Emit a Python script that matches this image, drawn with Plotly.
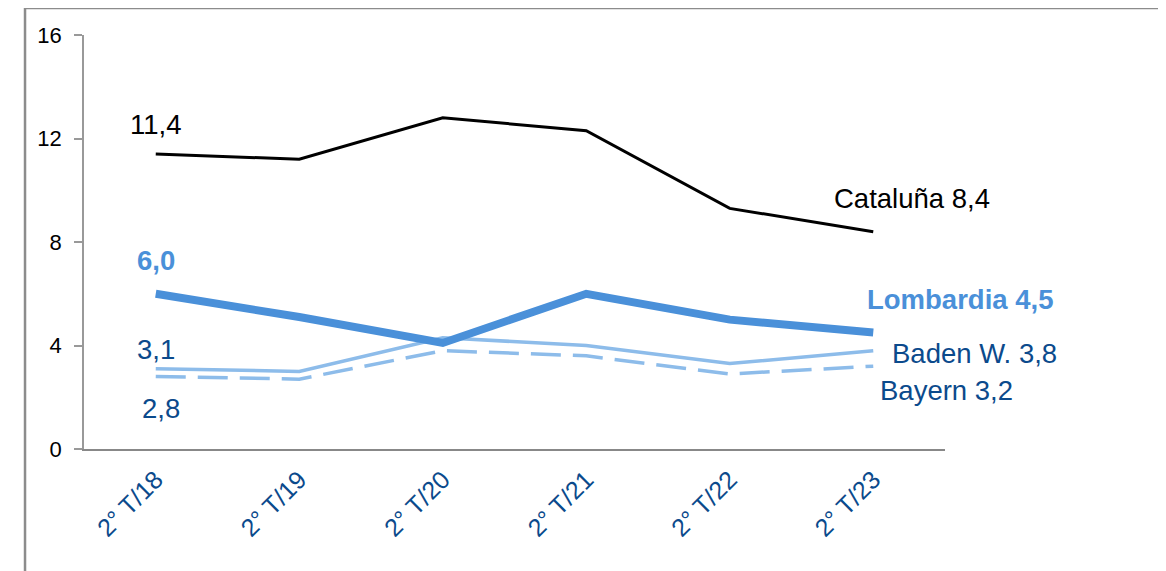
import plotly.graph_objects as go

categories = ["2° T/18", "2° T/19", "2° T/20", "2° T/21", "2° T/22", "2° T/23"]
cataluna = [11.4, 11.2, 12.8, 12.3, 9.3, 8.4]
lombardia = [6.0, 5.1, 4.1, 6.0, 5.0, 4.5]
baden = [3.1, 3.0, 4.3, 4.0, 3.3, 3.8]
bayern = [2.8, 2.7, 3.8, 3.6, 2.9, 3.2]
y_ticks = [0, 4, 8, 12, 16]

FONT = "Liberation Sans, Arial, sans-serif"
DARK = "#0B4A8C"
MID = "#4A90D9"
LIGHT = "#8DBCEA"

def fmt(v):
    return f"{v:.1f}".replace(".", ",")

x = list(range(len(categories)))
fig = go.Figure()
fig.add_trace(go.Scatter(x=x, y=baden, mode="lines", line=dict(color=LIGHT, width=3.5), name="Baden W."))
fig.add_trace(go.Scatter(x=x, y=bayern, mode="lines", line=dict(color=LIGHT, width=3.5, dash="30px,12px"), name="Bayern"))
fig.add_trace(go.Scatter(x=x, y=lombardia, mode="lines", line=dict(color=MID, width=8), name="Lombardia"))
fig.add_trace(go.Scatter(x=x, y=cataluna, mode="lines", line=dict(color="black", width=3), name="Cataluña"))

ann = []
def add(xv, yv, text, color, anchor="center", bold=False):
    ann.append(dict(x=xv, y=yv, xref="x", yref="y", text=f"<b>{text}</b>" if bold else text,
                    showarrow=False, xanchor=anchor, yanchor="middle",
                    font=dict(family=FONT, size=27.5, color=color)))

add(0, 12.56, fmt(cataluna[0]), "black")
add(4.71, 9.7, "Cataluña " + fmt(cataluna[-1]), "black", "left")
add(0, 7.3, fmt(lombardia[0]), MID, bold=True)
add(4.94, 5.76, "Lombardia " + fmt(lombardia[-1]), MID, "left", bold=True)
add(0, 3.86, fmt(baden[0]), DARK)
add(0.04, 1.55, fmt(bayern[0]), DARK)
add(5.12, 3.71, "Baden W. " + fmt(baden[-1]), DARK, "left")
add(5.03, 2.28, "Bayern " + fmt(bayern[-1]), DARK, "left")

fig.update_layout(
    width=1166, height=571,
    margin=dict(l=76, r=229, t=27, b=130),
    plot_bgcolor="white", paper_bgcolor="white",
    showlegend=False,
    annotations=ann,
    shapes=[dict(type="rect", xref="paper", yref="paper", x0=-0.0685, x1=1.4, y0=-0.5, y1=1.065,
                 line=dict(color="#8C8C8C", width=2.5), fillcolor="rgba(0,0,0,0)", layer="below")],
)
fig.update_xaxes(
    range=[-0.5, 5.5], tickmode="array", tickvals=x, ticktext=categories, tickangle=-45,
    showgrid=False, zeroline=False, showline=True, linecolor="#888888", linewidth=2,
    ticks="", tickfont=dict(family=FONT, size=25, color=DARK), ticklabelstandoff=4,
)
fig.update_yaxes(
    range=[0, 16], tickmode="array", tickvals=y_ticks, ticktext=[str(t) for t in y_ticks],
    showgrid=False, zeroline=False, showline=True, linecolor="#999999", linewidth=1.5,
    ticks="outside", ticklen=8, tickcolor="#999999", tickwidth=1.5,
    tickfont=dict(family=FONT, size=22, color="black"), ticklabelstandoff=8,
)
fig.write_html("out.html")
